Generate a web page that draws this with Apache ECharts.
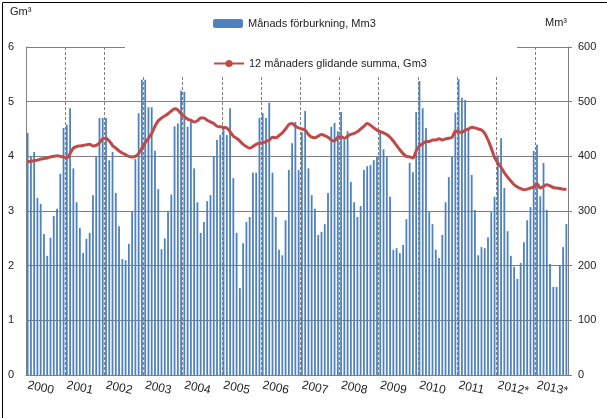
<!DOCTYPE html>
<html><head><meta charset="utf-8">
<script src="https://cdn.jsdelivr.net/npm/echarts@6/dist/echarts.min.js"></script>
<style>html,body{margin:0;padding:0;background:#fff}#c{width:607px;height:418px}</style>
</head><body><div id="c"></div>
<script>
const years = ['2000','2001','2002','2003','2004','2005','2006','2007','2008','2009','2010','2011','2012*','2013*'];
const monthly = [
443,399,408,324,313,258,218,251,291,304,368,452,
458,488,378,316,269,223,249,260,329,399,470,470,
470,393,408,333,272,212,210,240,300,395,479,540,
540,490,490,410,340,230,250,300,330,455,460,520,
518,454,463,378,316,260,280,318,329,399,430,439,
452,439,488,360,260,159,241,280,289,370,370,470,
479,470,498,370,289,229,219,283,375,424,463,375,
444,483,378,329,304,256,262,276,333,454,461,446,
481,430,446,353,316,289,309,375,382,384,393,400,
444,413,400,326,229,232,223,238,285,388,371,481,
538,488,452,298,276,229,214,256,316,362,399,480,
541,507,503,452,366,302,219,234,232,252,298,326,
402,433,342,263,218,198,176,205,243,283,307,410,
421,327,388,302,203,161,161,201,234,276];
const rolling = [
3.90,3.91,3.92,3.93,3.95,3.96,3.97,3.99,4.00,4.01,4.00,3.99,
3.97,4.05,4.15,4.18,4.19,4.20,4.21,4.22,4.19,4.20,4.25,4.32,
4.33,4.28,4.20,4.15,4.10,4.06,4.03,4.00,3.99,4.00,4.05,4.15,
4.25,4.33,4.42,4.55,4.65,4.70,4.74,4.78,4.83,4.87,4.85,4.78,
4.73,4.68,4.66,4.63,4.65,4.70,4.70,4.66,4.63,4.60,4.55,4.54,
4.53,4.52,4.45,4.37,4.33,4.28,4.22,4.18,4.15,4.18,4.22,4.24,
4.25,4.27,4.30,4.35,4.34,4.38,4.43,4.50,4.58,4.60,4.55,4.52,
4.50,4.48,4.40,4.35,4.34,4.37,4.40,4.38,4.35,4.30,4.28,4.35,
4.36,4.33,4.37,4.40,4.42,4.45,4.50,4.55,4.60,4.57,4.52,4.48,
4.45,4.43,4.40,4.35,4.28,4.20,4.12,4.05,4.00,3.99,3.97,4.10,
4.19,4.23,4.27,4.27,4.30,4.30,4.32,4.30,4.32,4.33,4.35,4.46,
4.45,4.44,4.48,4.50,4.53,4.52,4.50,4.48,4.42,4.30,4.15,3.98,
3.88,3.80,3.70,3.62,3.55,3.48,3.44,3.41,3.39,3.40,3.42,3.44,
3.50,3.42,3.45,3.48,3.46,3.43,3.42,3.41,3.40,3.40];
const categories = monthly.map((_, i) => years[Math.floor(i / 12)] + '-' + (i % 12 + 1));
const font = 'Liberation Sans';
const chart = echarts.init(document.getElementById('c'));
chart.setOption({
  animation: false,
  textStyle: { fontFamily: font },
  grid: { left: 26, right: 39, top: 47, bottom: 43 },
  legend: [
    { data: ['Månads förburkning, Mm3'], left: 208, top: 13, itemWidth: 30, itemHeight: 9, itemGap: 0,
      textStyle: { fontSize: 11, color: '#222', fontFamily: font } },
    { data: ['12 månaders glidande summa, Gm3'], left: 208, top: 53, itemWidth: 30, itemHeight: 9,
      textStyle: { fontSize: 11, color: '#222', fontFamily: font } }
  ],
  graphic: [
    { type: 'rect', left: 125, top: 38, shape: { width: 392, height: 39 }, style: { fill: '#fff' }, z: 3 },
    { type: 'text', left: 10, top: 6, style: { text: 'Gm³', fontSize: 11, fill: '#222', fontFamily: font } },
    { type: 'text', left: 545, top: 17, style: { text: 'Mm³', fontSize: 11, fill: '#222', fontFamily: font } },
    { type: 'rect', left: 0, top: 0, shape: { width: 606, height: 417 }, style: { fill: 'none', stroke: '#000', lineWidth: 1 }, z: 10 }
  ],
  xAxis: {
    type: 'category', data: categories, boundaryGap: true,
    axisLine: { lineStyle: { color: '#808080' } },
    axisTick: { interval: (i) => i % 12 === 0, length: 5, lineStyle: { color: '#808080' } },
    axisLabel: { interval: (i) => i % 12 === 0, formatter: (v) => v.split('-')[0], rotate: -12,
      fontSize: 12, color: '#222', margin: 10, align: 'left' },
    splitLine: { show: true, interval: (i) => i % 12 === 0 && i > 0, lineStyle: { color: '#808080', type: [3, 2], width: 1 } }
  },
  yAxis: [
    { type: 'value', min: 0, max: 6, interval: 1,
      axisLine: { show: true, lineStyle: { color: '#808080' } },
      axisLabel: { fontSize: 11, color: '#222', margin: 12 },
      splitLine: { lineStyle: { color: '#808080' } } },
    { type: 'value', min: 0, max: 600, interval: 100,
      axisLine: { show: true, lineStyle: { color: '#808080' } },
      axisTick: { show: true, length: 4 },
      axisLabel: { fontSize: 11, color: '#222', margin: 10 },
      splitLine: { show: false } }
  ],
  series: [
    { name: 'Månads förburkning, Mm3', type: 'bar', yAxisIndex: 1, data: monthly,
      barWidth: '55%', itemStyle: { color: '#4f81bd' }, z: 2 },
    { name: '12 månaders glidande summa, Gm3', type: 'line', yAxisIndex: 0, data: rolling,
      showSymbol: false, symbol: 'none', smooth: 0.3, lineStyle: { color: '#be4b48', width: 3 },
      itemStyle: { color: '#be4b48' }, z: 5 }
  ]
});
</script></body></html>
